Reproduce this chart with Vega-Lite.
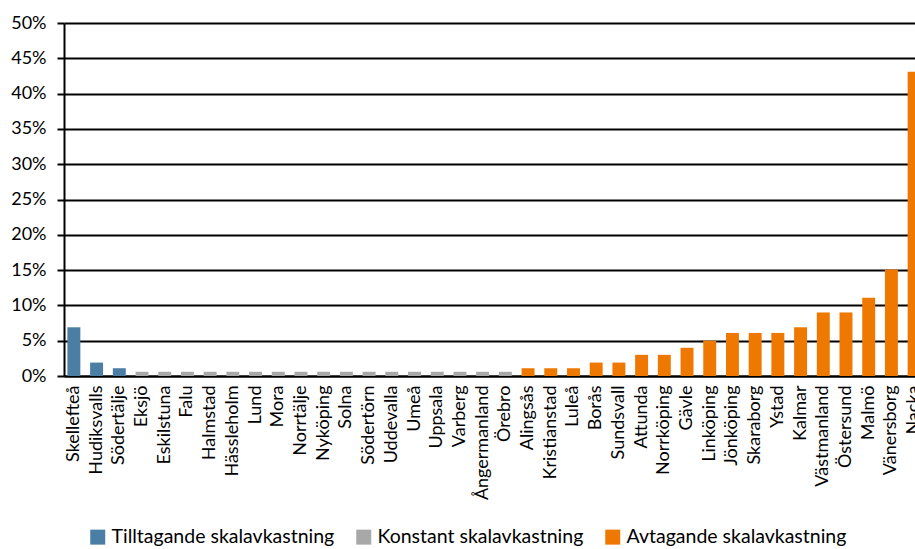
{
  "$schema": "https://vega.github.io/schema/vega-lite/v6.json",
  "width": 851,
  "height": 353,
  "autosize": {"type": "none"},
  "padding": {"left": 64, "top": 23, "right": 0, "bottom": 173},
  "config": {"view": {"stroke": null}, "font": "Lato"},
  "data": {
    "values": [
      {"enhet": "Skellefteå", "andel": 6.9, "typ": "Tilltagande skalavkastning"},
      {"enhet": "Hudiksvalls", "andel": 1.9, "typ": "Tilltagande skalavkastning"},
      {"enhet": "Södertälje", "andel": 1.1, "typ": "Tilltagande skalavkastning"},
      {"enhet": "Eksjö", "andel": 0.6, "typ": "Konstant skalavkastning"},
      {"enhet": "Eskilstuna", "andel": 0.6, "typ": "Konstant skalavkastning"},
      {"enhet": "Falu", "andel": 0.6, "typ": "Konstant skalavkastning"},
      {"enhet": "Halmstad", "andel": 0.6, "typ": "Konstant skalavkastning"},
      {"enhet": "Hässleholm", "andel": 0.6, "typ": "Konstant skalavkastning"},
      {"enhet": "Lund", "andel": 0.6, "typ": "Konstant skalavkastning"},
      {"enhet": "Mora", "andel": 0.6, "typ": "Konstant skalavkastning"},
      {"enhet": "Norrtälje", "andel": 0.6, "typ": "Konstant skalavkastning"},
      {"enhet": "Nyköping", "andel": 0.6, "typ": "Konstant skalavkastning"},
      {"enhet": "Solna", "andel": 0.6, "typ": "Konstant skalavkastning"},
      {"enhet": "Södertörn", "andel": 0.6, "typ": "Konstant skalavkastning"},
      {"enhet": "Uddevalla", "andel": 0.6, "typ": "Konstant skalavkastning"},
      {"enhet": "Umeå", "andel": 0.6, "typ": "Konstant skalavkastning"},
      {"enhet": "Uppsala", "andel": 0.6, "typ": "Konstant skalavkastning"},
      {"enhet": "Varberg", "andel": 0.6, "typ": "Konstant skalavkastning"},
      {"enhet": "Ångermanland", "andel": 0.6, "typ": "Konstant skalavkastning"},
      {"enhet": "Örebro", "andel": 0.6, "typ": "Konstant skalavkastning"},
      {"enhet": "Alingsås", "andel": 1.1, "typ": "Avtagande skalavkastning"},
      {"enhet": "Kristianstad", "andel": 1.1, "typ": "Avtagande skalavkastning"},
      {"enhet": "Luleå", "andel": 1.1, "typ": "Avtagande skalavkastning"},
      {"enhet": "Borås", "andel": 1.9, "typ": "Avtagande skalavkastning"},
      {"enhet": "Sundsvall", "andel": 1.9, "typ": "Avtagande skalavkastning"},
      {"enhet": "Attunda", "andel": 3, "typ": "Avtagande skalavkastning"},
      {"enhet": "Norrköping", "andel": 3, "typ": "Avtagande skalavkastning"},
      {"enhet": "Gävle", "andel": 4, "typ": "Avtagande skalavkastning"},
      {"enhet": "Linköping", "andel": 5, "typ": "Avtagande skalavkastning"},
      {"enhet": "Jönköping", "andel": 6.1, "typ": "Avtagande skalavkastning"},
      {"enhet": "Skaraborg", "andel": 6.1, "typ": "Avtagande skalavkastning"},
      {"enhet": "Ystad", "andel": 6.1, "typ": "Avtagande skalavkastning"},
      {"enhet": "Kalmar", "andel": 6.9, "typ": "Avtagande skalavkastning"},
      {"enhet": "Västmanland", "andel": 9, "typ": "Avtagande skalavkastning"},
      {"enhet": "Östersund", "andel": 9, "typ": "Avtagande skalavkastning"},
      {"enhet": "Malmö", "andel": 11.1, "typ": "Avtagande skalavkastning"},
      {"enhet": "Vänersborg", "andel": 15.1, "typ": "Avtagande skalavkastning"},
      {"enhet": "Nacka", "andel": 43.1, "typ": "Avtagande skalavkastning"}
    ]
  },
  "mark": {"type": "bar"},
  "encoding": {
    "x": {
      "field": "enhet",
      "type": "nominal",
      "sort": null,
      "scale": {"range": [0, 860], "paddingInner": 0.43, "paddingOuter": 0.15},
      "axis": {
        "title": null,
        "labelAngle": -90,
        "labelAlign": "right",
        "labelBaseline": "middle",
        "labelFontSize": 18,
        "labelColor": "#000000",
        "labelPadding": 9,
        "ticks": false,
        "domainColor": "#000000",
        "domainWidth": 2,
        "labelOverlap": false
      }
    },
    "y": {
      "field": "andel",
      "type": "quantitative",
      "scale": {"domain": [0, 50]},
      "axis": {
        "title": null,
        "values": [0, 5, 10, 15, 20, 25, 30, 35, 40, 45, 50],
        "labelExpr": "datum.value + '%'",
        "labelFontSize": 18,
        "labelColor": "#000000",
        "labelPadding": 11,
        "tickSize": 7,
        "tickColor": "#000000",
        "tickWidth": 2,
        "domainColor": "#000000",
        "domainWidth": 2,
        "grid": true,
        "gridColor": "#000000",
        "gridWidth": 2
      }
    },
    "color": {
      "field": "typ",
      "type": "nominal",
      "scale": {
        "domain": ["Tilltagande skalavkastning", "Konstant skalavkastning", "Avtagande skalavkastning"],
        "range": ["#4a7ea5", "#a8a8a8", "#ef7800"]
      },
      "legend": {
        "title": null,
        "orient": "none",
        "legendX": 24,
        "legendY": 504,
        "direction": "horizontal",
        "symbolType": "square",
        "symbolSize": 225,
        "symbolStrokeWidth": 0,
        "symbolOpacity": 1,
        "labelFontSize": 19.5,
        "labelColor": "#000000",
        "labelOffset": 4,
        "columnPadding": 19,
        "labelLimit": 400
      }
    }
  }
}
